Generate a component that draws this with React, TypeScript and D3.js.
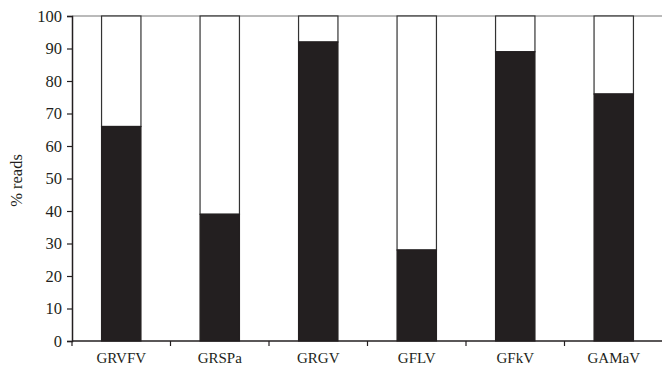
import React, { useRef, useEffect } from 'react';
import * as d3 from 'd3';

const categories = ['GRVFV', 'GRSPa', 'GRGV', 'GFLV', 'GFkV', 'GAMaV'];
const readValues = [66, 39, 92, 28, 89, 76];
const yTicks = [0, 10, 20, 30, 40, 50, 60, 70, 80, 90, 100];

const App = () => {
  const svgRef = useRef<SVGSVGElement>(null);

  useEffect(() => {
    const width = 662;
    const height = 367;
    const margin = { top: 16, right: -1, bottom: 26, left: 72 };
    const innerW = width - margin.left - margin.right;
    const innerH = height - margin.top - margin.bottom;

    const svg = d3.select(svgRef.current);
    svg.selectAll('*').remove();

    const g = svg.append('g').attr('transform', `translate(${margin.left},${margin.top})`);

    const x = d3.scaleBand().domain(categories).range([0, innerW]).paddingInner(0.6).paddingOuter(0.3);
    const y = d3.scaleLinear().domain([0, 100]).range([innerH, 0]);

    // top gridline
    g.append('line')
      .attr('x1', 0)
      .attr('x2', innerW)
      .attr('y1', y(100))
      .attr('y2', y(100))
      .attr('stroke', '#777')
      .attr('stroke-width', 1.2);

    const bars = g.selectAll('.bar').data(categories).enter().append('g');

    // white (remaining) part
    bars.append('rect')
      .attr('x', d => x(d)!)
      .attr('width', x.bandwidth())
      .attr('y', y(100))
      .attr('height', (d, i) => y(readValues[i]) - y(100))
      .attr('fill', '#fff')
      .attr('stroke', '#333')
      .attr('stroke-width', 1.2);

    // black part
    bars.append('rect')
      .attr('x', d => x(d)!)
      .attr('width', x.bandwidth())
      .attr('y', (d, i) => y(readValues[i]))
      .attr('height', (d, i) => innerH - y(readValues[i]))
      .attr('fill', '#231f20')
      .attr('stroke', '#231f20')
      .attr('stroke-width', 1.2);

    const font = '"Liberation Serif", "Times New Roman", serif';

    // y axis
    const yAxis = g.append('g').call(d3.axisLeft(y).tickValues(yTicks).tickSize(5).tickPadding(5));
    yAxis.select('.domain').attr('stroke', '#231f20').attr('stroke-width', 1.5);
    yAxis.selectAll('.tick line').attr('stroke', '#231f20').attr('stroke-width', 1.2);
    yAxis.selectAll('.tick text')
      .attr('font-family', font)
      .attr('font-size', 16.5)
      .attr('fill', '#231f20');

    // x axis with ticks at category boundaries
    const step = x.step();
    const boundaries = d3.range(categories.length + 1).map(i => i * step);
    const xAxisG = g.append('g').attr('transform', `translate(0,${innerH})`);
    xAxisG.append('line')
      .attr('x1', 0)
      .attr('x2', innerW)
      .attr('stroke', '#231f20')
      .attr('stroke-width', 1.5);
    xAxisG.selectAll('.xtick')
      .data(boundaries)
      .enter()
      .append('line')
      .attr('x1', d => d)
      .attr('x2', d => d)
      .attr('y1', 0)
      .attr('y2', 5)
      .attr('stroke', '#231f20')
      .attr('stroke-width', 1.2);
    xAxisG.selectAll('.xlabel')
      .data(categories)
      .enter()
      .append('text')
      .attr('x', d => x(d)! + x.bandwidth() / 2)
      .attr('y', 21.5)
      .attr('text-anchor', 'middle')
      .attr('font-family', font)
      .attr('font-size', 15)
      .attr('fill', '#231f20')
      .text(d => d);

    // y label
    svg.append('text')
      .attr('transform', `translate(22,${margin.top + innerH / 2 + 2}) rotate(-90)`)
      .attr('text-anchor', 'middle')
      .attr('font-family', font)
      .attr('font-size', 16.5)
      .attr('fill', '#231f20')
      .text('% reads');
  }, []);

  return (
    <svg
      ref={svgRef}
      width={662}
      height={367}
      style={{ position: 'absolute', left: 0, top: 0, background: '#fff' }}
    />
  );
};

export default App;
